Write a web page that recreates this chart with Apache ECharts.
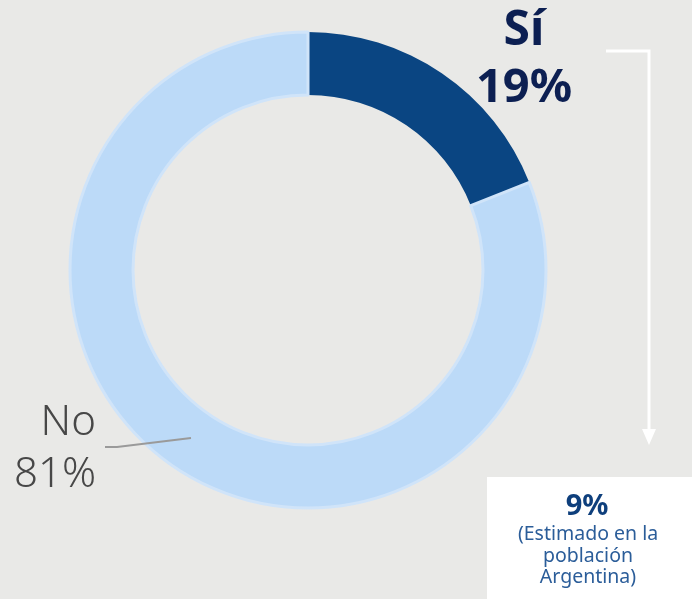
<!DOCTYPE html>
<html>
<head>
<meta charset="utf-8">
<script src="https://cdn.jsdelivr.net/npm/echarts@6/dist/echarts.min.js"></script>
<style>
  html, body { margin: 0; padding: 0; background: #e9e9e7; }
  #chart { width: 692px; height: 599px; }
</style>
</head>
<body>
<div id="chart"></div>
<script>
// datos
const categories = ['Sí', 'No']
const values = [19, 81]
const colors = ['#0a4582', '#bcdaf8']
const noteValue = '9%'
const noteText = ['(Estimado en la', 'población', 'Argentina)']

const font = 'Noto Sans'
const chart = echarts.init(document.getElementById('chart'))

const pieData = categories.map((name, i) => ({
  name: name,
  value: values[i],
  itemStyle: i === 1
    ? { color: colors[i], borderColor: '#d0e4f9', borderWidth: 3 }
    : { color: colors[i] }
}))

chart.setOption({
  backgroundColor: '#e9e9e7',
  animation: false,
  series: [{
    type: 'pie',
    center: [308, 270],
    radius: [175, 238],
    startAngle: 90,
    clockwise: true,
    data: pieData,
    label: {
      show: true,
      position: 'outside',
      fontFamily: font,
      formatter: function (p) {
        return p.dataIndex === 0
          ? '{s|' + p.name + '}\n{big|' + p.percent + '%}'
          : '{thin|' + p.name + '}\n{thin|' + p.percent + '%}'
      },
      rich: {
        s: { fontFamily: font, fontSize: 48, fontWeight: 'bold', color: '#0c1f52', lineHeight: 58, align: 'center' },
        big: { fontFamily: font, fontSize: 47, fontWeight: 'bold', color: '#0c1f52', lineHeight: 58, align: 'center' },
        thin: { fontFamily: font, fontSize: 42, fontWeight: 300, color: '#474747', lineHeight: 52, align: 'right' }
      }
    },
    labelLine: { show: false },
    labelLayout: function (params) {
      if (params.dataIndex === 0) {
        return { x: 524, y: 60, align: 'center', verticalAlign: 'middle', hideOverlap: false }
      }
      return { x: 96, y: 449, align: 'right', verticalAlign: 'middle' }
    },
    emphasis: { disabled: true }
  }],
  graphic: [
    {
      type: 'polyline',
      z: 100,
      shape: { points: [[191, 438], [117, 447], [105, 447]] },
      style: { stroke: '#9a9a9a', lineWidth: 2, fill: null }
    },
    {
      type: 'polyline',
      shape: { points: [[606, 51], [649, 51], [649, 432]] },
      style: { stroke: '#ffffff', lineWidth: 3, fill: null }
    },
    {
      type: 'polygon',
      shape: { points: [[642, 429], [656, 429], [649, 445]] },
      style: { fill: '#ffffff' }
    },
    {
      type: 'rect',
      shape: { x: 487, y: 477, width: 215, height: 130 },
      style: { fill: '#ffffff' }
    },
    {
      type: 'text',
      style: { text: noteValue, x: 587, y: 507, align: 'center', verticalAlign: 'middle', fontFamily: font, fontSize: 29, fontWeight: 'bold', fill: '#0e3f7c' }
    },
    {
      type: 'text',
      style: { text: noteText.join('\n'), x: 588, y: 524, align: 'center', verticalAlign: 'top', fontFamily: font, fontSize: 19.5, lineHeight: 21.5, fill: '#2b5d99' }
    }
  ]
})
</script>
</body>
</html>
